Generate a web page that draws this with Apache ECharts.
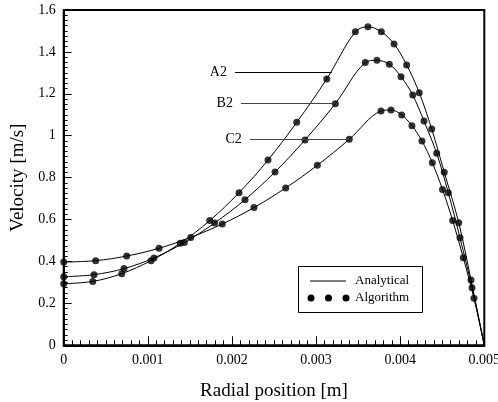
<!DOCTYPE html>
<html>
<head>
<meta charset="utf-8">
<script src="https://cdn.jsdelivr.net/npm/echarts@6/dist/echarts.min.js"></script>
<style>
html,body{margin:0;padding:0;background:#fff;}
#c{width:498px;height:402px;}
</style>
</head>
<body>
<div id="c"></div>
<script>
// Algorithm points (radial position [m], velocity [m/s])
var xA2 = [0, 0.000345, 0.00069, 0.001038, 0.001386, 0.001736, 0.002084, 0.002429, 0.00277, 0.003127, 0.003467, 0.003617, 0.003776, 0.003927, 0.004077, 0.004227, 0.004375, 0.004524, 0.004696, 0.004842];
var yA2 = [0.294, 0.305, 0.342, 0.404, 0.487, 0.595, 0.728, 0.884, 1.064, 1.271, 1.496, 1.520, 1.496, 1.438, 1.338, 1.205, 1.032, 0.826, 0.585, 0.312];
var xB2 = [0, 0.00036, 0.000717, 0.001073, 0.001434, 0.001795, 0.002155, 0.002512, 0.002869, 0.003229, 0.003585, 0.003724, 0.003871, 0.00401, 0.004149, 0.004283, 0.004434, 0.004572, 0.004711, 0.004854];
var yB2 = [0.327, 0.337, 0.366, 0.417, 0.490, 0.584, 0.695, 0.827, 0.980, 1.153, 1.349, 1.360, 1.341, 1.282, 1.194, 1.070, 0.916, 0.728, 0.513, 0.275];
var xC2 = [0, 0.00038, 0.000749, 0.001133, 0.00151, 0.001885, 0.002262, 0.002639, 0.003015, 0.003395, 0.003772, 0.003891, 0.004018, 0.00414, 0.004259, 0.004382, 0.004503, 0.004624, 0.00475, 0.004877];
var yC2 = [0.397, 0.404, 0.426, 0.463, 0.515, 0.579, 0.657, 0.751, 0.859, 0.983, 1.118, 1.123, 1.099, 1.048, 0.975, 0.871, 0.744, 0.595, 0.418, 0.224];
// wall point where every analytical profile ends
var wallX = 0.005, wallY = 0;
var xTicks = ['0', '0.001', '0.002', '0.003', '0.004', '0.005'];
var yTicks = ['0', '0.2', '0.4', '0.6', '0.8', '1', '1.2', '1.4', '1.6'];

function pts(xs, ys){ return xs.map(function(x,i){ return [x, ys[i]]; }); }
function linePts(xs, ys){ var p = pts(xs, ys); p.push([wallX, wallY]); return p; }

var FONT = '"Liberation Serif", "Times New Roman", serif';
var chart = echarts.init(document.getElementById('c'), null, {renderer:'canvas'});

function lineSeries(name, xs, ys){
  return {type:'line', name:name, data:linePts(xs, ys), smooth:0.35, showSymbol:false, symbol:'none',
    lineStyle:{color:'#000', width:1}, z:2, silent:true};
}
function dotSeries(name, xs, ys, ann){
  var s = {type:'scatter', name:name, data:pts(xs, ys), symbol:'circle', symbolSize:7,
    itemStyle:{color:'#000'}, z:3, silent:true};
  if (ann) {
    s.markLine = {silent:true, symbol:'none', animation:false,
      lineStyle:{color:ann.color, width:1, type:'solid'},
      label:{show:true, position:'start', formatter:ann.text, distance:8,
        fontFamily:FONT, fontSize:14, color:'#000'},
      data:[[{coord:ann.from}, {coord:ann.to}]]};
  }
  return s;
}

var option = {
  animation:false,
  backgroundColor:'#fff',
  grid:{left:63.7, right:13.7, top:10, bottom:56.7, containLabel:false, outerBoundsMode:'none',
    show:true, borderColor:'#000', borderWidth:2, backgroundColor:'transparent'},
  xAxis:{type:'value', min:0, max:0.005, interval:0.001,
    name:'Radial position [m]', nameLocation:'middle', nameGap:36,
    nameTextStyle:{fontFamily:FONT, fontSize:19, color:'#000'},
    axisLine:{show:true, onZero:false, lineStyle:{color:'#000', width:2}},
    axisTick:{show:true, inside:true, length:9, lineStyle:{color:'#000', width:1}},
    minorTick:{show:true, splitNumber:10, length:5, lineStyle:{color:'#000', width:1}},
    splitLine:{show:false},
    axisLabel:{fontFamily:FONT, fontSize:14, color:'#000', margin:8,
      formatter:function(v){ return xTicks[Math.round(v/0.001)]; }}
  },
  yAxis:{type:'value', min:0, max:1.6, interval:0.2,
    name:'Velocity [m/s]', nameLocation:'middle', nameGap:35,
    nameTextStyle:{fontFamily:FONT, fontSize:19, color:'#000'},
    axisLine:{show:true, onZero:false, lineStyle:{color:'#000', width:2}},
    axisTick:{show:true, inside:true, length:8, lineStyle:{color:'#000', width:1}},
    minorTick:{show:true, splitNumber:8, length:4, lineStyle:{color:'#000', width:1}},
    splitLine:{show:false},
    axisLabel:{fontFamily:FONT, fontSize:14, color:'#000', margin:8,
      formatter:function(v){ return yTicks[Math.round(v/0.2)]; }}
  },
  series:[
    lineSeries('A2 analytical', xA2, yA2),
    lineSeries('B2 analytical', xB2, yB2),
    lineSeries('C2 analytical', xC2, yC2),
    dotSeries('A2', xA2, yA2, {text:'A2', color:'#000', from:[0.002036, 1.304], to:[0.003186, 1.304]}),
    dotSeries('B2', xB2, yB2, {text:'B2', color:'#444', from:[0.002107, 1.153], to:[0.003197, 1.153]}),
    dotSeries('C2', xC2, yC2, {text:'C2', color:'#444', from:[0.002213, 0.983], to:[0.003395, 0.983]})
  ],
  graphic:[
    {type:'rect', shape:{x:298.5, y:266.5, width:124, height:46}, style:{fill:'#fff', stroke:'#000', lineWidth:1}, z:10},
    {type:'line', shape:{x1:310, y1:281, x2:346, y2:281}, style:{stroke:'#000', lineWidth:1}, z:11},
    {type:'text', x:355, y:281, style:{text:'Analytical', font:'13px "Liberation Serif", serif', fill:'#000', textVerticalAlign:'middle', verticalAlign:'middle'}, z:11},
    {type:'circle', shape:{cx:311, cy:298, r:3.5}, style:{fill:'#000'}, z:11},
    {type:'circle', shape:{cx:328.5, cy:298, r:3.5}, style:{fill:'#000'}, z:11},
    {type:'circle', shape:{cx:346, cy:298, r:3.5}, style:{fill:'#000'}, z:11},
    {type:'text', x:355, y:298, style:{text:'Algorithm', font:'13px "Liberation Serif", serif', fill:'#000', textVerticalAlign:'middle', verticalAlign:'middle'}, z:11}
  ]
};
chart.setOption(option);
</script>
</body>
</html>
